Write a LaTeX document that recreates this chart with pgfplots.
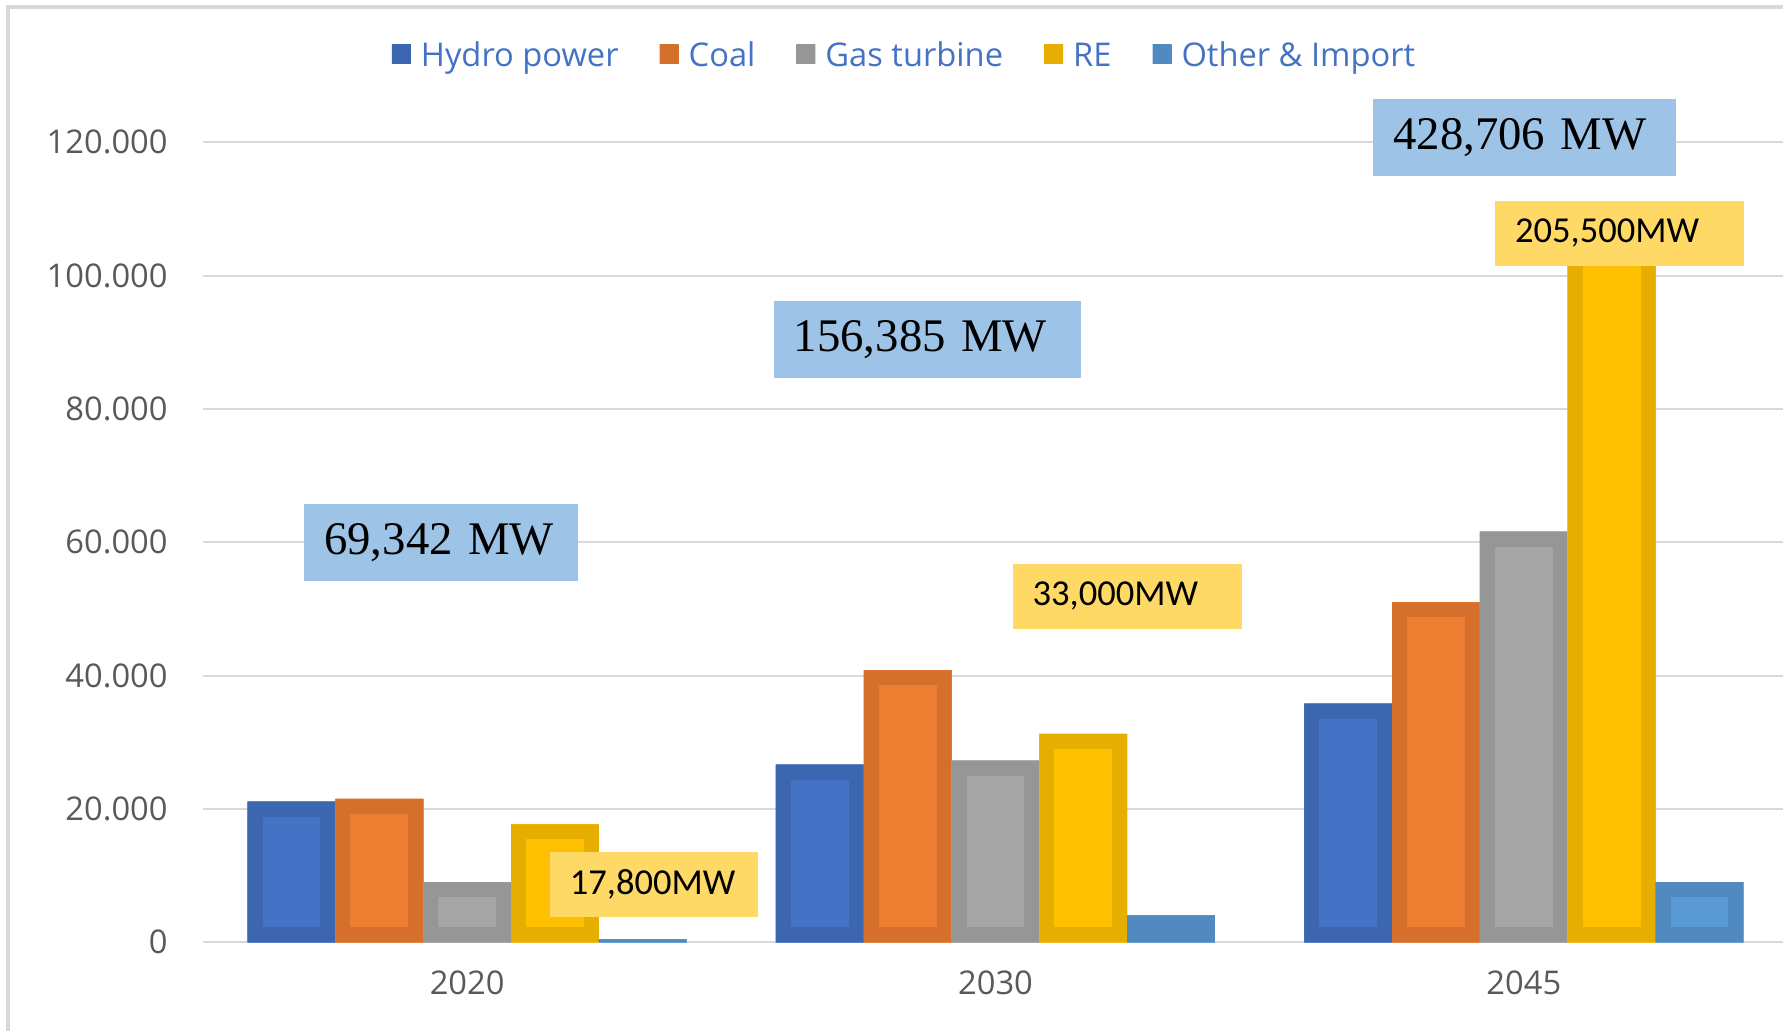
\documentclass[border=0pt]{standalone}
\usepackage{pgfplots}
\usepackage{pgfplotstable}
\pgfplotsset{compat=1.18}
\usepackage{fontspec}
\setmainfont{Open Sans}
\newfontfamily\carlito{Carlito}
\newfontfamily\lserif{Liberation Serif}
\definecolor{hydroF}{HTML}{4472C4}
\definecolor{hydroD}{HTML}{3C66B0}
\definecolor{coalF}{HTML}{ED7D31}
\definecolor{coalD}{HTML}{D5702C}
\definecolor{gasF}{HTML}{A5A5A5}
\definecolor{gasD}{HTML}{969696}
\definecolor{reF}{HTML}{FFC000}
\definecolor{reD}{HTML}{E6AE00}
\definecolor{othF}{HTML}{5B9BD5}
\definecolor{othD}{HTML}{508AC0}
\definecolor{boxblue}{HTML}{9DC3E6}
\definecolor{boxyel}{HTML}{FFD966}
\definecolor{gridc}{HTML}{D9D9D9}
\definecolor{tickc}{HTML}{595959}
\definecolor{legc}{HTML}{4472C4}

\pgfplotstableread{
cat hydro coal gas re other
0 21100 21500 9000 17700 450
1 26650 40800 27250 31250 4050
2 35800 51000 61600 106000 9040
}\energydata

\tikzset{
  mybar/.style 2 args={fill=#1, draw=none, postaction={clip, postaction={draw=#2, line width=3mm}}},
  bluebox/.style 2 args={fill=boxblue, anchor=north west, minimum width=#1, minimum height=7.7mm,
     text width=#2, inner xsep=2mm, inner ysep=0pt, align=left,
     font=\lserif\fontsize{13.3}{16}\selectfont, text=black},
  yelbox/.style 2 args={fill=boxyel, anchor=north west, minimum width=#1, minimum height=6.5mm,
     text width=#2, inner xsep=2mm, inner ysep=0pt, align=left,
     font=\carlito\fontsize{10.4}{12}\selectfont, text=black},
}
\pgfplotsset{legsq/.style={legend image code/.code={\fill[#1] (0mm,-0.65mm) rectangle (1.9mm,1.25mm);}}}

\begin{document}
\begin{tikzpicture}
\useasboundingbox (0,0) rectangle (178.3mm,103.1mm);
\draw[gridc, line width=0.35mm] (0.8mm,0) -- (0.8mm,102.4mm) -- (178.3mm,102.4mm);
\begin{axis}[
  at={(20.3mm,8.87mm)}, anchor=south west,
  scale only axis, width=158mm, height=80mm,
  xmin=-0.5, xmax=2.4906, ymin=0, ymax=120000,
  clip mode=individual,
  axis line style={draw=none},
  major tick length=0pt,
  xtick={0,1,2}, xticklabels={2020,2030,2045},
  ytick={0,20000,40000,60000,80000,100000,120000},
  yticklabels={0,20.000,40.000,60.000,80.000,100.000,120.000},
  ymajorgrids, major grid style={draw=gridc, line width=0.55pt},
  scaled y ticks=false,
  tick label style={font=\fontsize{9.3}{11}\selectfont, text=tickc},
  yticklabel style={xshift=-2.3mm},
  xticklabel style={yshift=-1.6mm},
  ybar, bar width=8.78mm,
  legend columns=-1,
  legend style={at={(0.4434,1.1066)}, anchor=center, draw=none, fill=none,
    font=\fontsize{9.3}{11}\selectfont, text=legc, inner sep=0pt,
    nodes={inner sep=0pt},
    /tikz/every odd column/.append style={column sep=1mm},
    /tikz/every even column/.append style={column sep=4.1mm}},
]
\addplot[mybar={hydroF}{hydroD}, bar shift=-17.56mm, legsq=hydroD] table[x=cat, y=hydro] {\energydata};
\addlegendentry{Hydro power}
\addplot[mybar={coalF}{coalD}, bar shift=-8.78mm, legsq=coalD] table[x=cat, y=coal] {\energydata};
\addlegendentry{Coal}
\addplot[mybar={gasF}{gasD}, bar shift=0mm, legsq=gasD] table[x=cat, y=gas] {\energydata};
\addlegendentry{Gas turbine}
\addplot[mybar={reF}{reD}, bar shift=8.78mm, legsq=reD] table[x=cat, y=re] {\energydata};
\addlegendentry{RE}
\addplot[mybar={othF}{othD}, bar shift=17.56mm, legsq=othD] table[x=cat, y=other] {\energydata};
\addlegendentry{Other \& Import}

\node[bluebox={27.4mm}{23.4mm}] at (axis cs:-0.3097,65790) {69,342 MW};
\node[bluebox={30.7mm}{26.7mm}] at (axis cs:0.5792,96310) {156,385 MW};
\node[bluebox={30.3mm}{26.3mm}] at (axis cs:1.7140,126600) {428,706 MW};
\node[yelbox={22.97mm}{18.97mm}] at (axis cs:1.0312,56910) {33,000MW};
\node[yelbox={20.8mm}{16.8mm}] at (axis cs:0.1552,13690) {17,800MW};
\node[yelbox={24.9mm}{20.9mm}] at (axis cs:1.9442,111350) {205,500MW};
\end{axis}
\end{tikzpicture}
\end{document}
